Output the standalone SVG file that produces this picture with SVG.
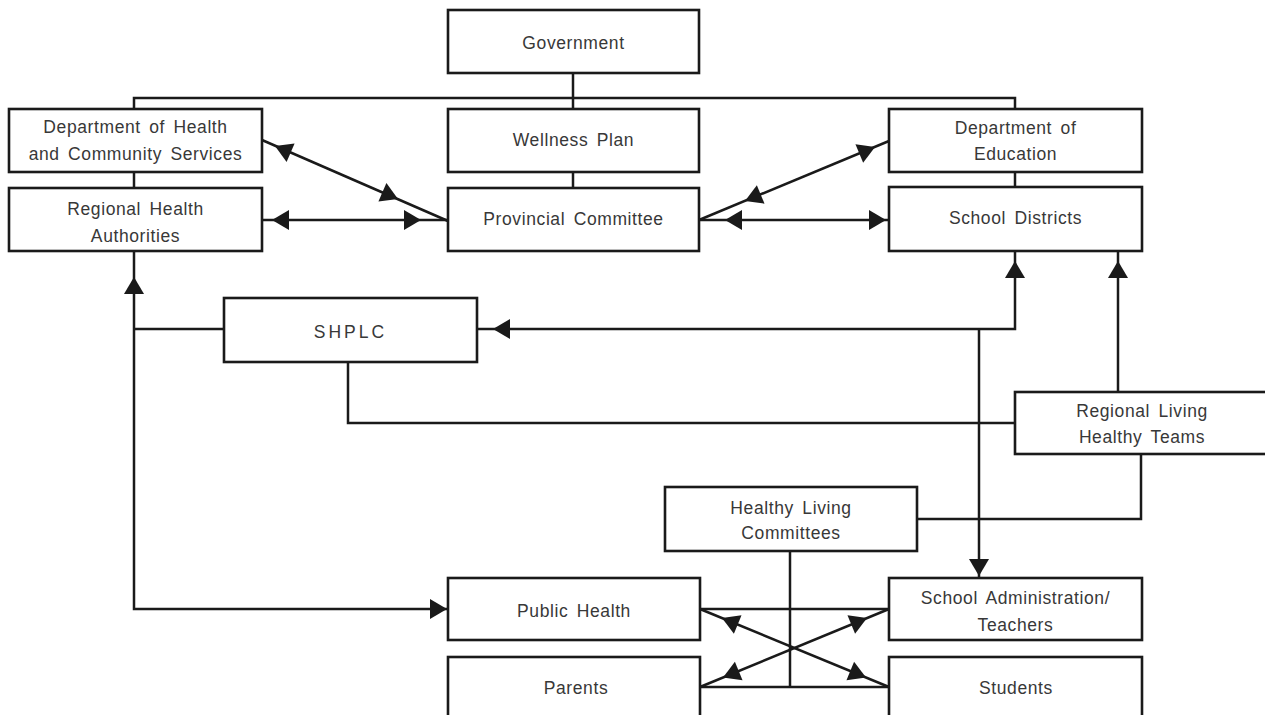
<svg xmlns="http://www.w3.org/2000/svg" width="1265" height="715" viewBox="0 0 1265 715">
<style>
  .box { fill: #fff; stroke: #1a1a1a; stroke-width: 2.6; }
  .ln { fill: none; stroke: #1a1a1a; stroke-width: 2.5; stroke-linejoin: miter; }
  .lbl { font-family: "Liberation Sans", Arial, sans-serif; font-size: 17.5px; fill: #383838; text-anchor: middle; letter-spacing: 0.6px; word-spacing: 3px; }
  .ah { fill: #1a1a1a; }
</style>
<defs>
  <path id="arr" class="ah" d="M0,0 L-17,-10 L-17,10 Z"/>
</defs>
<rect width="1265" height="715" fill="#fff"/>

<g id="connectors">
  <path class="ln" d="M573,73 V109"/>
  <path class="ln" d="M134,109 V98 H1015 V109"/>
  <path class="ln" d="M134,172 V188"/>
  <path class="ln" d="M573,172 V188"/>
  <path class="ln" d="M1015,172 V187"/>
  <path class="ln" d="M262,140 L448,221"/>
  <path class="ln" d="M262,220 H448"/>
  <path class="ln" d="M699,220 L889,141"/>
  <path class="ln" d="M699,220 H889"/>
  <path class="ln" d="M134,251 V609 H448"/>
  <path class="ln" d="M134,329 H224"/>
  <path class="ln" d="M477,329 H1015 V251"/>
  <path class="ln" d="M979,329 V578"/>
  <path class="ln" d="M348,362 V423 H1015"/>
  <path class="ln" d="M1118,392 V251"/>
  <path class="ln" d="M1141,454 V519 H917"/>
  <path class="ln" d="M790,551 V687"/>
  <path class="ln" d="M700,609 H889"/>
  <path class="ln" d="M700,687 H889"/>
  <path class="ln" d="M700,609 L889,687"/>
  <path class="ln" d="M889,609 L700,687"/>

  <use href="#arr" transform="translate(275,146) rotate(203.5)"/>
  <use href="#arr" transform="translate(398,199) rotate(23.5)"/>
  <use href="#arr" transform="translate(272,220) rotate(180)"/>
  <use href="#arr" transform="translate(421,220) rotate(0)"/>
  <use href="#arr" transform="translate(875,147) rotate(-22.6)"/>
  <use href="#arr" transform="translate(745,201) rotate(157.4)"/>
  <use href="#arr" transform="translate(725,220) rotate(180)"/>
  <use href="#arr" transform="translate(886,220) rotate(0)"/>
  <use href="#arr" transform="translate(1015,261) rotate(-90)"/>
  <use href="#arr" transform="translate(1118,261) rotate(-90)"/>
  <use href="#arr" transform="translate(493,329) rotate(180)"/>
  <use href="#arr" transform="translate(134,277) rotate(-90)"/>
  <use href="#arr" transform="translate(447,609) rotate(0)"/>
  <use href="#arr" transform="translate(979,576) rotate(90)"/>
  <use href="#arr" transform="translate(722,618) rotate(202.4)"/>
  <use href="#arr" transform="translate(866,677.5) rotate(22.4)"/>
  <use href="#arr" transform="translate(867,618) rotate(-22.4)"/>
  <use href="#arr" transform="translate(723,677.5) rotate(157.6)"/>
</g>

<g id="government">
  <rect class="box" x="448" y="10" width="251" height="63"/>
  <text class="lbl" x="573.5" y="49">Government</text>
</g>
<g id="dept-health">
  <rect class="box" x="9" y="109" width="253" height="63"/>
  <text class="lbl" x="135.5" y="133">Department of Health</text>
  <text class="lbl" x="135.5" y="160">and Community Services</text>
</g>
<g id="regional-health">
  <rect class="box" x="9" y="188" width="253" height="63"/>
  <text class="lbl" x="135.5" y="215">Regional Health</text>
  <text class="lbl" x="135.5" y="242">Authorities</text>
</g>
<g id="wellness-plan">
  <rect class="box" x="448" y="109" width="251" height="63"/>
  <text class="lbl" x="573.5" y="146">Wellness Plan</text>
</g>
<g id="provincial-committee">
  <rect class="box" x="448" y="188" width="251" height="63"/>
  <text class="lbl" x="573.5" y="225">Provincial Committee</text>
</g>
<g id="dept-education">
  <rect class="box" x="889" y="109" width="253" height="63"/>
  <text class="lbl" x="1015.5" y="134">Department of</text>
  <text class="lbl" x="1015.5" y="160">Education</text>
</g>
<g id="school-districts">
  <rect class="box" x="889" y="187" width="253" height="64"/>
  <text class="lbl" x="1015.5" y="224">School Districts</text>
</g>
<g id="shplc">
  <rect class="box" x="224" y="298" width="253" height="64"/>
  <text class="lbl" x="350.5" y="338" style="letter-spacing:3px">SHPLC</text>
</g>
<g id="regional-living-healthy-teams">
  <rect class="box" x="1015" y="392" width="270" height="62"/>
  <text class="lbl" x="1142" y="417">Regional Living</text>
  <text class="lbl" x="1142" y="443">Healthy Teams</text>
</g>
<g id="healthy-living-committees">
  <rect class="box" x="665" y="487" width="252" height="64"/>
  <text class="lbl" x="791" y="514">Healthy Living</text>
  <text class="lbl" x="791" y="539">Committees</text>
</g>
<g id="public-health">
  <rect class="box" x="448" y="578" width="252" height="62"/>
  <text class="lbl" x="574" y="617">Public Health</text>
</g>
<g id="school-administration">
  <rect class="box" x="889" y="578" width="253" height="62"/>
  <text class="lbl" x="1015.5" y="604">School Administration/</text>
  <text class="lbl" x="1015.5" y="631">Teachers</text>
</g>
<g id="parents">
  <rect class="box" x="448" y="657" width="252" height="80"/>
  <text class="lbl" x="576" y="694">Parents</text>
</g>
<g id="students">
  <rect class="box" x="889" y="657" width="253" height="80"/>
  <text class="lbl" x="1016" y="694">Students</text>
</g>
</svg>
